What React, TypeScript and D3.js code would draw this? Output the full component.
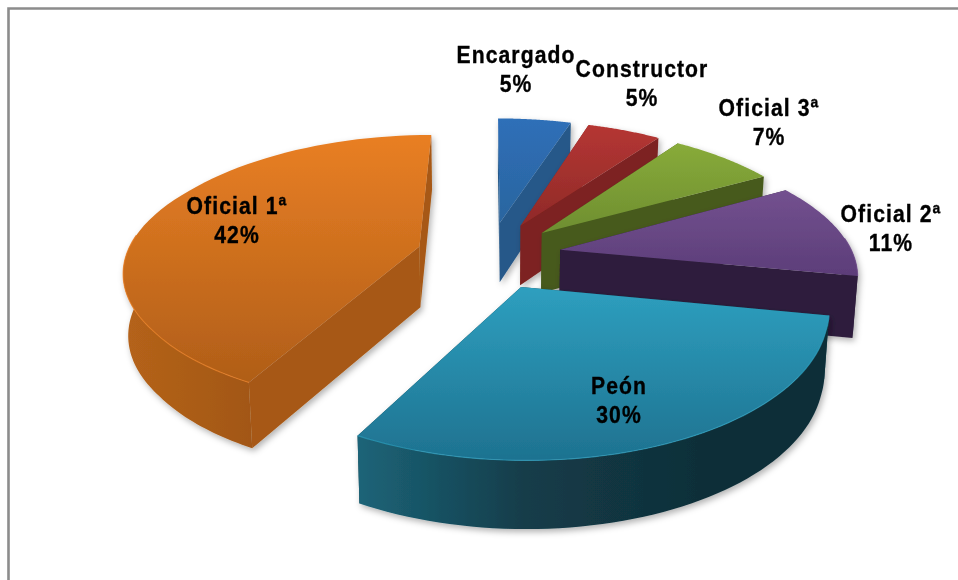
import React from "react";
import * as d3 from "d3";

const categories = ["Encargado", "Constructor", "Oficial 3ª", "Oficial 2ª", "Peón", "Oficial 1ª"];
const shares = [5, 5, 7, 11, 30, 42];
const topLight = ["#2F6FB8", "#B53633", "#88AB3A", "#73518F", "#2E9FBF", "#E97F24"];
const topDark = ["#2A659F", "#8F2A28", "#6E8E30", "#5C3D79", "#1E7290", "#B05E18"];
const faceColor = ["#255889", "#7D2220", "#465A1C", "#2E1E3C", "#12424F", "#A75814"];
const wallLeft = ["#255889", "#7D2220", "#465A1C", "#2E1E3C", "#1C6478", "#B5631A"];
const wallMid = ["#255889", "#7D2220", "#465A1C", "#2E1E3C", "#133C49", "#9C5315"];
const wallRight = ["#255889", "#7D2220", "#465A1C", "#2E1E3C", "#102F39", "#854510"];
const drawOrder = [0, 1, 2, 3, 5, 4];
// centre of each label, baseline of the first line
const labelX = [516, 642, 769, 891, 619, 237];
const labelY = [63, 77, 116, 222, 394, 214];

const W = 958, H = 580;
const CX = 489, CY = 255, K = 0.47, P_FAR = 0.0007, P_NEAR = 0.0005;
const RADIUS = 293, EXPLODE = 72.6, DEPTH = 61, LINE = 29, FLOOR_SHRINK = 0.014;
const WALL_FROM = (85 * Math.PI) / 180, WALL_TO = (275 * Math.PI) / 180;

const pie = d3.pie<number>().sort(null)(shares);
const blend = d3.scaleLinear().domain([-150, 150]).range([P_FAR, P_NEAR]).clamp(true);

function project(a: number, r: number, off: number, mid: number, floor = false): [number, number] {
  const X = off * Math.sin(mid) + r * Math.sin(a);
  const Y = -off * Math.cos(mid) - r * Math.cos(a);
  const s = 1 / (1 - blend(Y) * Y);
  const xs = floor ? 1 - FLOOR_SHRINK : 1;
  return [CX + s * X * xs, CY + s * K * Y + (floor ? DEPTH * Math.pow(s, 0.6) : 0)];
}

const line = d3.line<[number, number]>();

export default function App() {
  return (
    <svg width={W} height={H} style={{ position: "absolute", left: 0, top: 0, background: "#fff" }}>
      <defs>
        <filter id="shadow" x="-20%" y="-20%" width="140%" height="140%">
          <feDropShadow dx="2" dy="3" stdDeviation="3" floodColor="#000" floodOpacity="0.3" />
        </filter>
        <filter id="soft" x="-5%" y="-5%" width="110%" height="110%">
          <feGaussianBlur stdDeviation="0.45" />
        </filter>
      </defs>
      <path d={`M8.5,${H} V8.5 H${W}`} fill="none" stroke="#8c8c8c" strokeWidth={2.6} />
      <g filter="url(#soft)">
        {drawOrder.map((i) => {
          const d = pie[i];
          const mid = (d.startAngle + d.endAngle) / 2;
          const at = (lo: number, hi: number) => d3.range(0, 61).map((t) => lo + ((hi - lo) * t) / 60);
          const topArc = at(d.startAngle, d.endAngle).map((a) => project(a, RADIUS, EXPLODE, mid));
          const apex = project(0, 0, EXPLODE, mid);
          const apexB = project(0, 0, EXPLODE, mid, true);
          const edge = (a: number) => [project(a, RADIUS, EXPLODE, mid), project(a, RADIUS, EXPLODE, mid, true)];
          const [s0, s1] = edge(d.startAngle);
          const [e0, e1] = edge(d.endAngle);
          const top = line([apex, ...topArc])! + "Z";
          const lo = Math.max(d.startAngle, WALL_FROM), hi = Math.min(d.endAngle, WALL_TO);
          const wallAngles = hi > lo ? at(lo, hi) : [];
          const wallTop = wallAngles.map((a) => project(a, RADIUS, EXPLODE, mid));
          const wallBot = wallAngles.map((a) => project(a, RADIUS, EXPLODE, mid, true));
          const startFace = line([apex, s0, s1, apexB])! + "Z";
          const endFace = line([apex, e0, e1, apexB])! + "Z";
          const xs = topArc.map((p) => p[0]);
          const ys = [apex, ...topArc].map((p) => p[1]);
          return (
            <g key={i} filter="url(#shadow)">
              <defs>
                <linearGradient id={`top${i}`} gradientUnits="userSpaceOnUse" x1={0} x2={0} y1={d3.min(ys)} y2={d3.max(ys)}>
                  <stop offset="0" stopColor={topLight[i]} />
                  <stop offset="1" stopColor={topDark[i]} />
                </linearGradient>
                <linearGradient id={`wall${i}`} gradientUnits="userSpaceOnUse" y1={0} y2={0} x1={d3.min(xs)} x2={d3.min(xs)! + 340}>
                  <stop offset="0" stopColor={wallLeft[i]} />
                  <stop offset="0.5" stopColor={wallMid[i]} />
                  <stop offset="1" stopColor={wallRight[i]} />
                </linearGradient>
              </defs>
              <path d={startFace} fill={faceColor[i]} />
              <path d={endFace} fill={faceColor[i]} />
              {wallTop.length > 0 && (
                <path d={line([...wallTop, ...wallBot.slice().reverse()])! + "Z"} fill={`url(#wall${i})`} />
              )}
              <path d={top} fill={`url(#top${i})`} />
              {wallTop.length > 0 && (
                <path d={line(wallTop)!} fill="none" stroke={topLight[i]} strokeOpacity={0.7} strokeWidth={1.2} />
              )}
            </g>
          );
        })}
        {categories.map((c, i) => (
          <g key={c} fontFamily="'Liberation Sans', Arial, sans-serif" fontWeight="bold" fontSize={23.5} letterSpacing={1.2} stroke="#000" strokeWidth={0.35} fill="#000" textAnchor="middle">
            <text transform={`translate(${labelX[i]},${labelY[i]}) scale(0.9,1)`}>{c}</text>
            <text transform={`translate(${labelX[i]},${labelY[i] + LINE}) scale(0.9,1)`}>{shares[i]}%</text>
          </g>
        ))}
      </g>
    </svg>
  );
}
